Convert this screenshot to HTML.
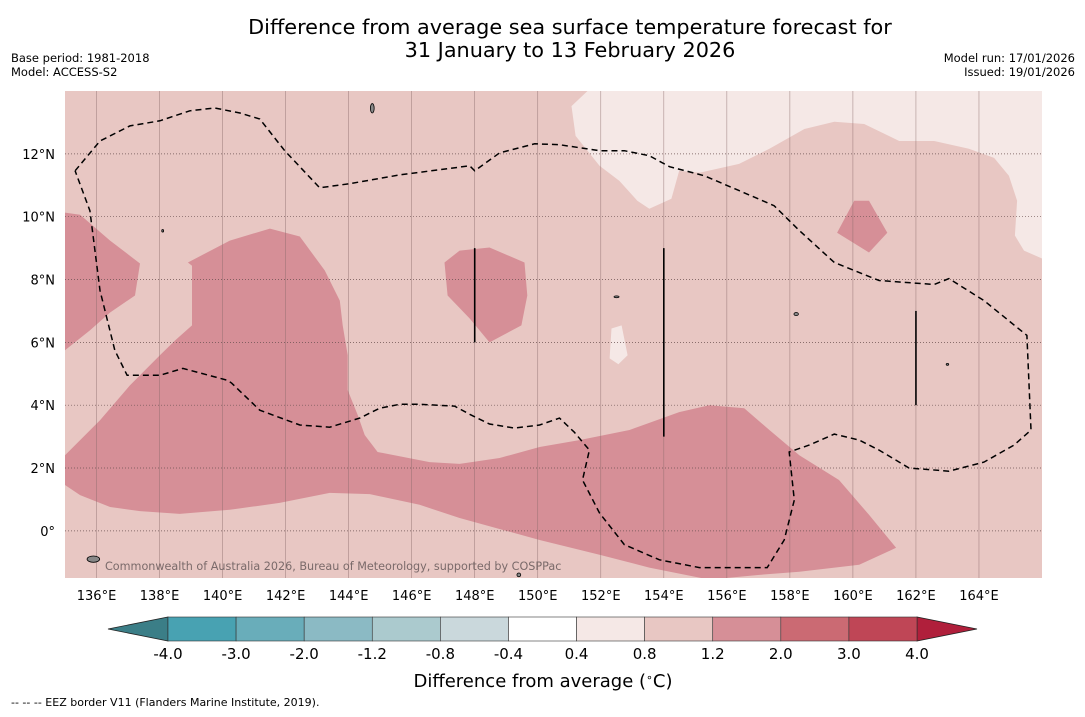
<!DOCTYPE html>
<html><head><meta charset="utf-8"><style>
body{margin:0;background:#fff;font-family:"DejaVu Sans","Liberation Sans",sans-serif;}
svg text{font-family:"DejaVu Sans","Liberation Sans",sans-serif;}
</style></head><body>
<svg id="c" width="1085" height="713" viewBox="0 0 1085 713" xmlns="http://www.w3.org/2000/svg">
<text x="570" y="34" font-size="20.8" text-anchor="middle">Difference from average sea surface temperature forecast for</text>
<text x="570" y="57" font-size="20.8" text-anchor="middle">31 January to 13 February 2026</text>
<text x="11" y="62" font-size="11.5">Base period: 1981-2018</text>
<text x="11" y="76" font-size="11.5">Model: ACCESS-S2</text>
<text x="1075" y="62" font-size="11.5" text-anchor="end">Model run: 17/01/2026</text>
<text x="1075" y="76" font-size="11.5" text-anchor="end">Issued: 19/01/2026</text>
<g id="map"></g>
<g id="cbar"></g>
<text x="543" y="687" font-size="18" text-anchor="middle">Difference from average (<tspan font-size="11" dy="-6">∘</tspan><tspan dy="6">C)</tspan></text>
<text x="11" y="706" font-size="11">--  --  -- EEZ border V11 (Flanders Marine Institute, 2019).</text>
</svg>
<script>
const lonTicks=[136,138,140,142,144,146,148,150,152,154,156,158,160,162,164];
const latTicks=[0,2,4,6,8,10,12];
const levels=[-4.0,-3.0,-2.0,-1.2,-0.8,-0.4,0.4,0.8,1.2,2.0,3.0,4.0];
const levelLabels=["-4.0","-3.0","-2.0","-1.2","-0.8","-0.4","0.4","0.8","1.2","2.0","3.0","4.0"];
const binColors=["#48a2b2","#69adba","#8bbac4","#abcace","#cad8dc","#ffffff","#f5e8e6","#e8c7c3","#d68f97","#cb6a73","#bf4656"];
const lowColor="#3b7e87", highColor="#b01f3b";
const warmLon=[135,135,136.11,137.06,138.01,138.49,139.03,139.03,138.9,140.23,141.5,142.45,143.24,143.72,143.81,143.97,143.97,144.29,144.51,144.92,146.57,147.52,148.79,150.06,151.32,152.91,154.49,155.44,156.55,157.35,158.3,159.56,160.51,161.37,160.2,158.3,157.03,155.44,153.54,151.96,150.06,147.52,146.25,144.67,143.4,141.81,140.23,138.64,137.38,136.43,135.48];
const warmLat=[1.46,2.41,3.52,4.63,5.59,6.06,6.54,8.44,8.54,9.24,9.62,9.37,8.29,7.33,6.54,5.59,4.48,3.68,3.05,2.51,2.19,2.13,2.32,2.67,2.89,3.21,3.78,4.0,3.9,3.21,2.41,1.62,0.51,-0.54,-1.08,-1.3,-1.4,-1.55,-1.17,-0.76,-0.29,0.41,0.83,1.17,1.21,0.89,0.67,0.54,0.63,0.76,1.14];
const westLon=[135,135.48,136.43,137.38,137.22,136.43,135.79,135];
const westLat=[10.13,10.06,9.24,8.51,7.49,6.95,6.38,5.75];
const midLon=[147.04,147.52,148.47,149.58,149.67,149.48,148.47,147.84,147.14];
const midLat=[8.54,8.92,9.02,8.54,7.49,6.54,6.0,6.76,7.49];
const eastLon=[159.5,160.04,160.51,161.09,160.51];
const eastLat=[9.49,10.51,10.51,9.49,8.86];
const coolLon=[151.58,151.07,151.2,151.96,152.59,153.16,153.54,154.24,154.49,155.13,156.39,157.35,158.46,159.41,160.36,161.47,162.58,163.68,164.48,164.95,165.21,165.14,165.43,166,166];
const coolLat=[14,13.52,12.57,11.62,11.14,10.51,10.25,10.57,11.46,11.4,11.68,12.16,12.79,13.02,12.95,12.41,12.41,12.16,11.87,11.3,10.51,9.4,8.92,8.67,14];
const spotLon=[152.34,152.66,152.85,152.56,152.28];
const spotLat=[6.44,6.54,5.59,5.3,5.49];
const eezLon=[135.32,136.11,137.06,138.01,138.96,139.75,140.55,141.18,141.97,143.08,144.03,145.62,147.84,148.0,148.79,149.9,150.69,151.96,152.75,153.54,154.18,155.29,156.39,157.5,158.3,159.41,160.83,162.58,163.05,164.16,165.52,165.65,165.11,164.16,163.05,161.78,160.83,160.2,159.41,158.61,157.98,158.14,157.82,157.28,155.13,153.86,152.75,151.96,151.42,151.64,151.16,150.69,150.06,149.26,148.47,147.84,147.36,146.25,145.62,144.98,144.35,143.4,142.45,141.18,140.29,140.17,138.74,138.01,136.97,136.58,136.11,135.79,135.32];
const eezLat=[11.46,12.41,12.89,13.05,13.37,13.46,13.3,13.11,12.1,10.92,11.05,11.33,11.62,11.46,12.03,12.32,12.29,12.1,12.1,11.94,11.59,11.3,10.83,10.35,9.56,8.54,7.97,7.84,8.03,7.33,6.22,3.21,2.73,2.19,1.9,2.0,2.57,2.89,3.08,2.73,2.51,0.98,-0.29,-1.17,-1.17,-0.92,-0.44,0.57,1.62,2.57,3.14,3.59,3.37,3.27,3.4,3.71,3.97,4.03,4.03,3.9,3.59,3.3,3.37,3.84,4.7,4.79,5.17,4.95,4.95,5.75,7.65,10.19,11.46];
const segLon=[148,154,162];
const segLat0=[9.0,9.0,7.0];
const segLat1=[6.0,3.0,4.0];
const isles=[[144.75,13.45,0.06,0.15],[135.9,-0.9,0.2,0.1],[152.5,7.45,0.08,0.03],[158.2,6.9,0.07,0.05],[149.4,-1.4,0.06,0.06],[138.1,9.55,0.03,0.04],[163,5.3,0.04,0.03]];
const NS="http://www.w3.org/2000/svg";
const L0=135,L1=166,B0=-1.5,B1=14,X0=65,X1=1042,Y0=91,Y1=578;
const px=lon=>X0+(lon-L0)/(L1-L0)*(X1-X0);
const py=lat=>Y1-(lat-B0)/(B1-B0)*(Y1-Y0);
const map=document.getElementById('map');
function mk(t,a,p){const e=document.createElementNS(NS,t);for(const k in a)e.setAttribute(k,a[k]);(p||map).appendChild(e);return e;}
const cp=mk('clipPath',{id:'clip'});mk('rect',{x:X0,y:Y0,width:X1-X0,height:Y1-Y0},cp);
const bg=mk('rect',{x:X0,y:Y0,width:X1-X0,height:Y1-Y0,fill:binColors[7]});


const g=mk('g',{'clip-path':'url(#clip)'});
function poly(lons,lats,fill,name){const pts=lons.map((l,i)=>px(l).toFixed(1)+','+py(lats[i]).toFixed(1)).join(' ');const e=mk('polygon',{points:pts,fill:fill},g);

}
poly(coolLon,coolLat,binColors[6],'anomaly-0.4-0.8-northeast');
poly(spotLon,spotLat,binColors[6],'anomaly-0.4-0.8-spot');
poly(warmLon,warmLat,binColors[8],'anomaly-1.2-2.0-south');
poly(westLon,westLat,binColors[8],'anomaly-1.2-2.0-west');
poly(midLon,midLat,binColors[8],'anomaly-1.2-2.0-central');
poly(eastLon,eastLat,binColors[8],'anomaly-1.2-2.0-east');
lonTicks.forEach((l,i)=>{const e=mk('line',{x1:px(l),x2:px(l),y1:Y0,y2:Y1,stroke:'#8a6a6a','stroke-width':0.6,opacity:0.7},g);


const t=mk('text',{x:px(l),y:600,'font-size':13,'text-anchor':'middle'});t.textContent=l+'°E';

});
latTicks.forEach(l=>{const e=mk('line',{x1:X0,x2:X1,y1:py(l),y2:py(l),stroke:'#6a5050','stroke-width':0.7,'stroke-dasharray':'1,2'},g);


const t=mk('text',{x:55,y:py(l)+5,'font-size':13,'text-anchor':'end'});t.textContent=l===0?'0°':l+'°N';

});
const ez=mk('polyline',{points:eezLon.map((l,i)=>px(l).toFixed(1)+','+py(eezLat[i]).toFixed(1)).join(' '),fill:'none',stroke:'#000','stroke-width':1.5,'stroke-dasharray':'6,4'},g);


segLon.forEach((l,i)=>{const e=mk('line',{x1:px(l),x2:px(l),y1:py(segLat0[i]),y2:py(segLat1[i]),stroke:'#000','stroke-width':1.6},g);

});
isles.forEach(s=>{const e=mk('ellipse',{cx:px(s[0]),cy:py(s[1]),rx:s[2]*31.5,ry:s[3]*31.5,fill:'#888',stroke:'#000','stroke-width':0.8},g);

});
const cr=mk('text',{x:105,y:570,'font-size':11.2,fill:'#7a6a6a'},g);cr.textContent='Commonwealth of Australia 2026, Bureau of Meteorology, supported by COSPPac';


const cb=document.getElementById('cbar');
const CX0=168,CX1=917,CY0=617,CY1=641,n=levels.length-1,w=(CX1-CX0)/n;
const lt=mk('polygon',{points:`${CX0},${CY0} ${CX0},${CY1} 108,${(CY0+CY1)/2}`,fill:lowColor,stroke:'#222','stroke-width':0.8},cb);


const ht=mk('polygon',{points:`${CX1},${CY0} ${CX1},${CY1} 977,${(CY0+CY1)/2}`,fill:highColor,stroke:'#222','stroke-width':0.8},cb);


binColors.forEach((c,i)=>{const e=mk('rect',{x:CX0+i*w,y:CY0,width:w,height:CY1-CY0,fill:c,stroke:'#333','stroke-width':0.6},cb);

});
levelLabels.forEach((s,i)=>{const t=mk('text',{x:CX0+i*w,y:659,'font-size':15,'text-anchor':'middle'},cb);t.textContent=s;

});
</script>
</body></html>
